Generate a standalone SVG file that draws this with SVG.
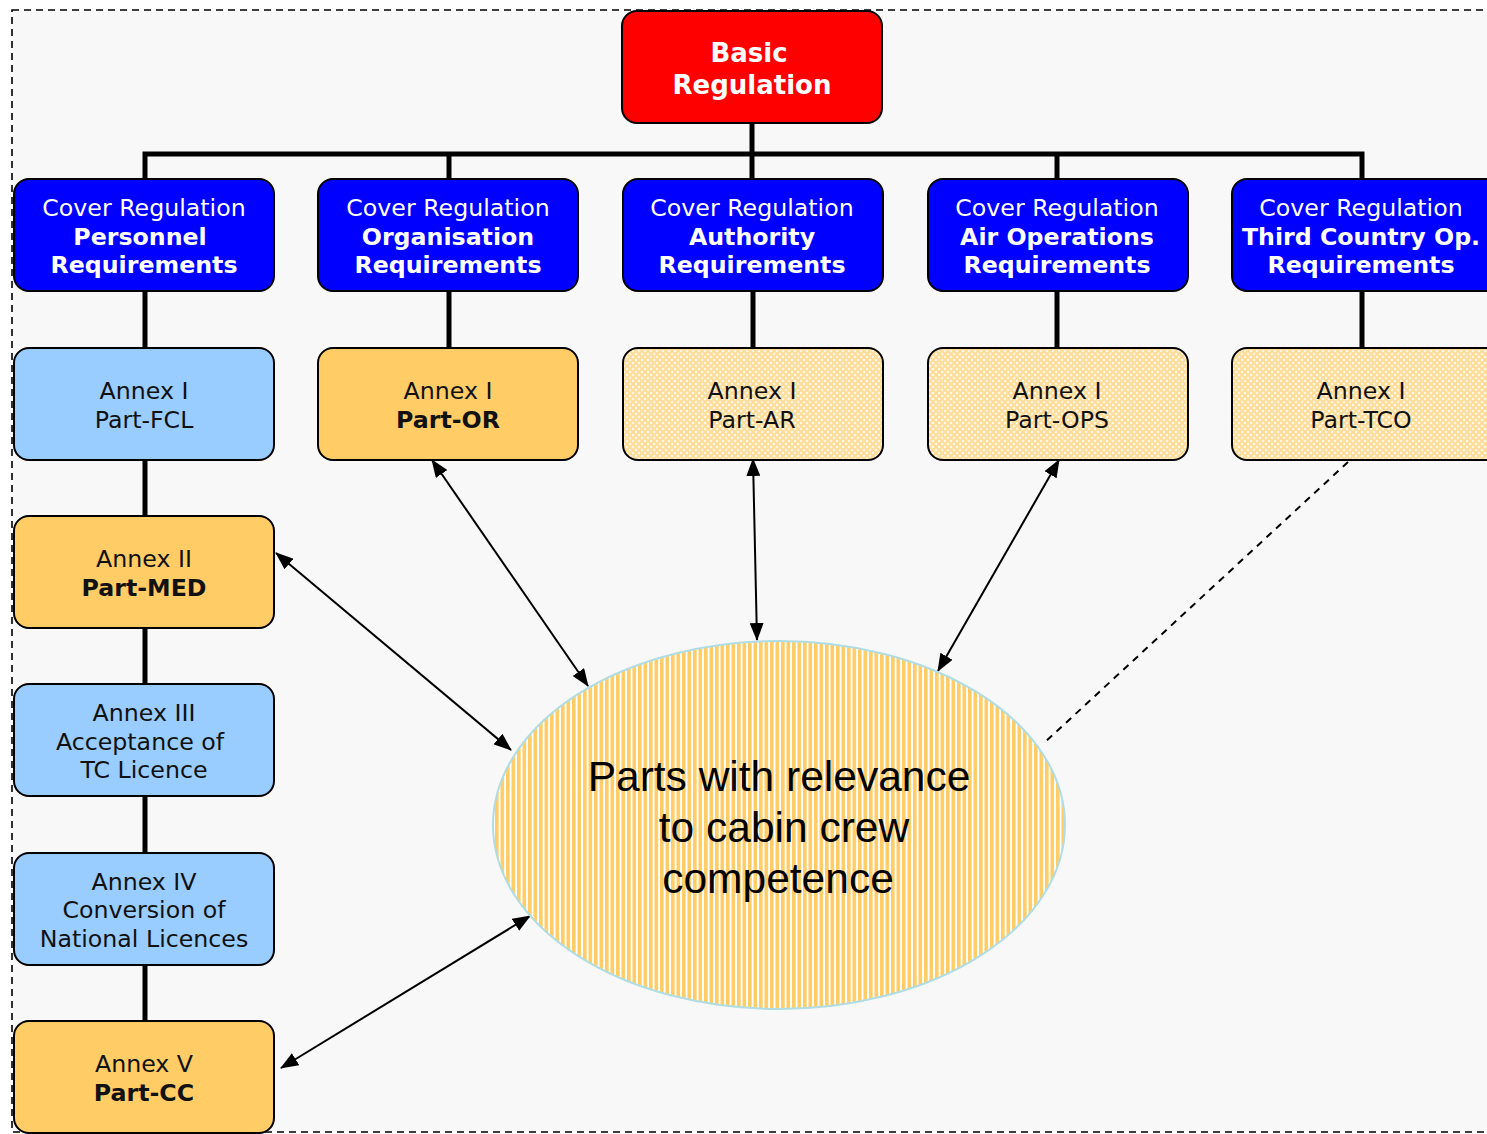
<svg xmlns="http://www.w3.org/2000/svg" width="1487" height="1134" viewBox="0 0 1487 1134">
<style>
.box{stroke:#000;stroke-width:2}
.cover{fill:#0000FF}
.lb{fill:#99CCFF}
.or{fill:#FFCC66}
.hx{fill:url(#hatch)}
.t{font-family:"DejaVu Sans",Verdana,sans-serif;font-size:23.7px;text-anchor:middle}
.w{fill:#fff}
.k{fill:#111}
.b{font-weight:bold}
.tree{stroke:#000;stroke-width:5;fill:none}
.arr{stroke:#000;stroke-width:2;fill:none;marker-start:url(#ah);marker-end:url(#ah)}
.big{font-family:"Liberation Sans",Arial,sans-serif;font-size:42.5px;text-anchor:middle;fill:#000}
</style>
<defs>
<marker id="ah" viewBox="0 0 18 14" refX="17" refY="7" markerWidth="18" markerHeight="14" markerUnits="userSpaceOnUse" orient="auto-start-reverse">
<path d="M0,0 L18,7 L0,14 Z" fill="#000"/>
</marker>
<pattern id="hatch" width="6" height="6" patternUnits="userSpaceOnUse">
<rect width="6" height="6" fill="#FFDD99"/>
<circle cx="0" cy="0" r="1.3" fill="#FFF6E6"/>
<circle cx="6" cy="0" r="1.3" fill="#FFF6E6"/>
<circle cx="0" cy="6" r="1.3" fill="#FFF6E6"/>
<circle cx="6" cy="6" r="1.3" fill="#FFF6E6"/>
<circle cx="3" cy="3" r="1.3" fill="#FFF6E6"/>
</pattern>
<pattern id="stripes" width="5.5" height="10" patternUnits="userSpaceOnUse">
<rect width="5.5" height="10" fill="#FFFFFF"/>
<rect width="3.6" height="10" fill="#FFCC66"/>
</pattern>
</defs>
<rect width="1487" height="1134" fill="#fff"/>
<rect x="12" y="10" width="1495" height="1122" fill="#F8F8F8" stroke="#000" stroke-width="1.6" stroke-dasharray="7 5"/>

<g id="connectors">
<path class="tree" d="M752,123 V179 M145,179 V154 H1362 V179 M449,154 V179 M1057,154 V179"/>
<path class="tree" d="M145,291 V1021 M449,291 V348 M753,291 V348 M1057,291 V348 M1362,291 V348"/>
<line class="arr" x1="276" y1="553" x2="511" y2="750"/>
<line class="arr" x1="432" y1="460" x2="588" y2="686"/>
<line class="arr" x1="753" y1="459" x2="757" y2="640"/>
<line class="arr" x1="1059" y1="460" x2="938" y2="671"/>
<line class="arr" x1="281" y1="1068" x2="530" y2="916"/>
<line x1="1348" y1="462" x2="1043" y2="744" stroke="#000" stroke-width="2" stroke-dasharray="7 6"/>
</g>

<g id="basic">
<rect class="box" x="622" y="11" width="260" height="112" rx="15" fill="#FF0000"/>
<text class="t w b" x="749" y="62" style="font-size:26px">Basic</text>
<text class="t w b" x="752" y="94" style="font-size:26px">Regulation</text>
</g>

<g id="cover-personnel">
<rect class="box cover" x="14" y="179" width="260" height="112" rx="15"/>
<text class="t w" x="144" y="216">Cover Regulation</text>
<text class="t w b" x="140" y="245">Personnel</text>
<text class="t w b" x="144" y="273">Requirements</text>
</g>
<g id="cover-org">
<rect class="box cover" x="318" y="179" width="260" height="112" rx="15"/>
<text class="t w" x="448" y="216">Cover Regulation</text>
<text class="t w b" x="448" y="245">Organisation</text>
<text class="t w b" x="448" y="273">Requirements</text>
</g>
<g id="cover-auth">
<rect class="box cover" x="623" y="179" width="260" height="112" rx="15"/>
<text class="t w" x="752" y="216">Cover Regulation</text>
<text class="t w b" x="752" y="245">Authority</text>
<text class="t w b" x="752" y="273">Requirements</text>
</g>
<g id="cover-ops">
<rect class="box cover" x="928" y="179" width="260" height="112" rx="15"/>
<text class="t w" x="1057" y="216">Cover Regulation</text>
<text class="t w b" x="1057" y="245">Air Operations</text>
<text class="t w b" x="1057" y="273">Requirements</text>
</g>
<g id="cover-tco">
<rect class="box cover" x="1232" y="179" width="270" height="112" rx="15"/>
<text class="t w" x="1361" y="216">Cover Regulation</text>
<text class="t w b" x="1361" y="245">Third Country Op.</text>
<text class="t w b" x="1361" y="273">Requirements</text>
</g>

<g id="part-fcl">
<rect class="box lb" x="14" y="348" width="260" height="112" rx="15"/>
<text class="t k" x="144" y="399">Annex I</text>
<text class="t k" x="144" y="428">Part-FCL</text>
</g>
<g id="part-or">
<rect class="box or" x="318" y="348" width="260" height="112" rx="15"/>
<text class="t k" x="448" y="399">Annex I</text>
<text class="t k b" x="448" y="428">Part-OR</text>
</g>
<g id="part-ar">
<rect class="box hx" x="623" y="348" width="260" height="112" rx="15"/>
<text class="t k" x="752" y="399">Annex I</text>
<text class="t k" x="752" y="428">Part-AR</text>
</g>
<g id="part-ops">
<rect class="box hx" x="928" y="348" width="260" height="112" rx="15"/>
<text class="t k" x="1057" y="399">Annex I</text>
<text class="t k" x="1057" y="428">Part-OPS</text>
</g>
<g id="part-tco">
<rect class="box hx" x="1232" y="348" width="270" height="112" rx="15"/>
<text class="t k" x="1361" y="399">Annex I</text>
<text class="t k" x="1361" y="428">Part-TCO</text>
</g>

<g id="part-med">
<rect class="box or" x="14" y="516" width="260" height="112" rx="15"/>
<text class="t k" x="144" y="567">Annex II</text>
<text class="t k b" x="144" y="596">Part-MED</text>
</g>
<g id="annex-iii">
<rect class="box lb" x="14" y="684" width="260" height="112" rx="15"/>
<text class="t k" x="144" y="721">Annex III</text>
<text class="t k" x="140" y="750">Acceptance of</text>
<text class="t k" x="144" y="778">TC Licence</text>
</g>
<g id="annex-iv">
<rect class="box lb" x="14" y="853" width="260" height="112" rx="15"/>
<text class="t k" x="144" y="890">Annex IV</text>
<text class="t k" x="144" y="918">Conversion of</text>
<text class="t k" x="144" y="947">National Licences</text>
</g>
<g id="part-cc">
<rect class="box or" x="14" y="1021" width="260" height="112" rx="15"/>
<text class="t k" x="144" y="1072">Annex V</text>
<text class="t k b" x="144" y="1101">Part-CC</text>
</g>

<g id="relevance">
<ellipse cx="779" cy="825" rx="286" ry="184" fill="url(#stripes)" stroke="#B0DDE4" stroke-width="2"/>
<text class="big" x="779" y="791">Parts with relevance</text>
<text class="big" x="784" y="842">to cabin crew</text>
<text class="big" x="778" y="893">competence</text>
</g>
</svg>
